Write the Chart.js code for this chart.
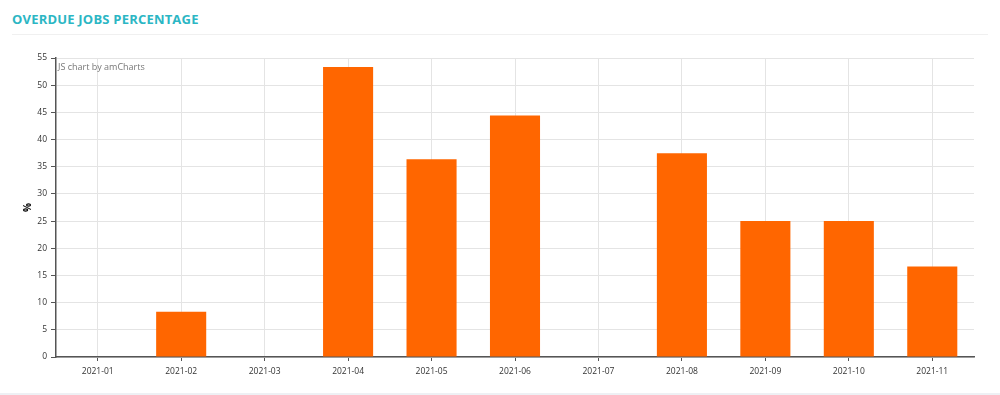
<!DOCTYPE html>
<html>
<head>
<meta charset="utf-8">
<script src="https://cdn.jsdelivr.net/npm/chart.js@4"></script>
<style>
  body { margin: 0; background: #fff; font-family: "Open Sans", sans-serif; }
  #wrap { position: relative; width: 1000px; height: 395px; overflow: hidden; }
  #title { position: absolute; left: 12px; top: 10px; font-size: 13px; font-weight: 700; color: #2bb6c4; letter-spacing: 0.2px; }
  #sep { position: absolute; left: 12px; top: 34px; width: 976px; height: 1px; background: #f0f0f0; }
  #bottom { position: absolute; left: 0; top: 393px; width: 1000px; height: 2px; background: #eef0f4; }
  #credit { position: absolute; left: 58px; top: 60px; font-size: 9px; color: #777; font-family: "Open Sans", sans-serif; }
  canvas { position: absolute; left: 0; top: 0; }
</style>
</head>
<body>
<div id="wrap">
  <div id="title">OVERDUE JOBS PERCENTAGE</div>
  <div id="sep"></div>
  <canvas id="chart" width="1000" height="395"></canvas>
  <div id="credit">JS chart by amCharts</div>
  <div id="bottom"></div>
</div>
<script>
const months = ['2021-01', '2021-02', '2021-03', '2021-04', '2021-05', '2021-06', '2021-07', '2021-08', '2021-09', '2021-10', '2021-11'];
const overdue = [0, 8.33, 0, 53.33, 36.36, 44.44, 0, 37.5, 25, 25, 16.67];
const yMax = 55;
const yStep = 5;

const tickFont = { family: '"Open Sans", sans-serif', size: 8.5 };

new Chart(document.getElementById('chart').getContext('2d'), {
    type: 'bar',
    data: {
        labels: months,
        datasets: [{
            label: '%',
            data: overdue,
            backgroundColor: '#ff6600',
            borderWidth: 0,
            categoryPercentage: 0.6,
            barPercentage: 1
        }]
    },
    options: {
        responsive: false,
        animation: false,
        layout: { padding: { top: 58, right: 26, bottom: 0, left: 0 } },
        plugins: { legend: { display: false }, tooltip: { enabled: false } },
        scales: {
            x: {
                grid: { offset: false, color: '#e4e4e4', tickColor: '#555', tickLength: 4 },
                border: { color: '#555', width: 1.5 },
                ticks: { color: '#333', font: tickFont, padding: 5, maxRotation: 0 },
                afterFit: scale => { scale.width; scale.height = 38; }
            },
            y: {
                min: 0,
                max: yMax,
                grid: { color: '#e4e4e4', tickColor: '#555', tickLength: 5 },
                border: { color: '#555', width: 1.5 },
                ticks: { stepSize: yStep, color: '#333', font: tickFont, padding: 4 },
                title: {
                    display: true, text: '%', color: '#000',
                    padding: { top: 22, bottom: 0 },
                    font: { family: '"Open Sans", sans-serif', size: 10, weight: 'bold' }
                },
                afterFit: scale => { scale.width = 56; }
            }
        }
    }
});
</script>
</body>
</html>
